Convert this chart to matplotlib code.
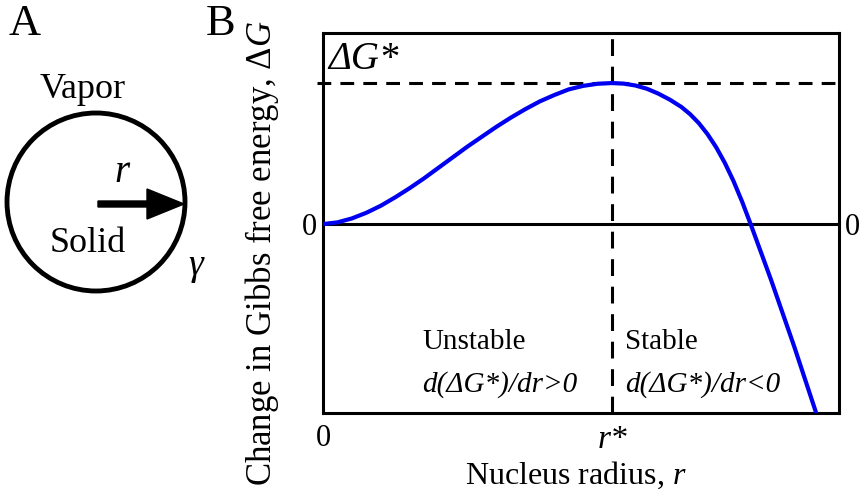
import matplotlib
matplotlib.use('Agg')
import matplotlib.pyplot as plt
from matplotlib.patches import Circle, FancyArrow

plt.rcParams['font.family'] = ['Liberation Serif', 'DejaVu Serif']
plt.rcParams['mathtext.fontset'] = 'custom'
plt.rcParams['mathtext.rm'] = 'Liberation Serif'
plt.rcParams['mathtext.it'] = 'Liberation Serif:italic'

# curve (r in units of r*, dG in units of dG*)
radius = [0.0, 0.05, 0.10, 0.15, 0.20, 0.25, 0.30, 0.35, 0.40, 0.45, 0.50,
          0.55, 0.60, 0.65, 0.70, 0.75, 0.80, 0.85, 0.90, 0.95, 1.0,
          1.04, 1.08, 1.12, 1.16, 1.20, 1.24, 1.27, 1.30, 1.33, 1.36,
          1.39, 1.42, 1.45, 1.48, 1.55, 1.63, 1.713]
gibbs = [0.0, 0.012, 0.04, 0.08, 0.13, 0.19, 0.255, 0.325, 0.40, 0.475, 0.55,
         0.62, 0.69, 0.755, 0.815, 0.87, 0.915, 0.955, 0.98, 0.995, 1.0,
         0.996, 0.983, 0.96, 0.925, 0.882, 0.83, 0.779, 0.716, 0.638, 0.545,
         0.434, 0.305, 0.158, -0.004, -0.396, -0.868, -1.383]
r_star = 1.0
dg_star = 1.0
x_ticks = [0, r_star]
x_labels = ['0', 'r*']

fig = plt.figure(figsize=(8.66, 4.93), dpi=100)
ax = fig.add_axes([323 / 866, 1 - 413 / 493, 516 / 866, 380 / 493])

lw = 2.2
ax.plot(radius, gibbs, color='#0000f0', lw=3.0, solid_capstyle='butt',
        solid_joinstyle='round', zorder=3)
ax.axhline(0, color='black', lw=lw, zorder=2)
ax.plot([-0.02, 1.785], [dg_star, dg_star], color='black', lw=lw,
        dashes=(4.5, 3.0), clip_on=False, zorder=2)
ax.plot([r_star, r_star], [-1.34, 1.375], color='black', lw=lw,
        dashes=(5.5, 3.5), clip_on=False, zorder=2)

ax.set_xlim(0, 1.785)
ax.set_ylim(-1.34, 1.355)
for s in ax.spines.values():
    s.set_linewidth(lw)

ax.set_xticks(x_ticks)
lbls = ax.set_xticklabels(x_labels, fontsize=22)
lbls[1].set_fontstyle('italic')
lbls[1].set_fontsize(24)
ax.set_yticks([0])
ax.set_yticklabels(['0'], fontsize=22)
ax.tick_params(axis='both', length=0)
ax.tick_params(axis='x', pad=8)
ax.tick_params(axis='y', pad=4, labelright=True)

ax.set_xlabel('Nucleus radius, $\\mathit{r}$', fontsize=23)
ax.xaxis.set_label_coords(0.49, -0.122)
ax.set_ylabel('Change in Gibbs free energy, $\\mathit{\\Delta G}$', fontsize=25)
ax.yaxis.set_label_coords(-0.082, 0.42)

ax.text(0.02, 1.17, 'ΔG*', fontsize=28, style='italic', va='center', ha='left')
ax.text(0.343, -0.84, 'Unstable', fontsize=21, ha='left', va='center')
ax.text(0.343, -1.14, 'd(ΔG*)/dr>0', fontsize=21, style='italic', ha='left', va='center')
ax.text(1.045, -0.84, 'Stable', fontsize=21, ha='left', va='center')
ax.text(1.045, -1.14, 'd(ΔG*)/dr<0', fontsize=21, style='italic', ha='left', va='center')

# panel A drawn in pixel space
ov = fig.add_axes([0, 0, 1, 1], zorder=-1)
ov.set_xlim(0, 866)
ov.set_ylim(493, 0)
ov.axis('off')
ov.add_patch(Circle((96, 202), 89, fill=False, lw=3.5, color='black'))
ov.add_patch(FancyArrow(98, 204, 86, 0, width=6, head_width=30, head_length=37,
                        length_includes_head=True, color='black'))
ov.text(122, 172, 'r', fontsize=28, style='italic', ha='center', va='center')
ov.text(83, 90, 'Vapor', fontsize=26, ha='center', va='center')
ov.text(88, 243, 'Solid', fontsize=26, ha='center', va='center')
ov.text(196, 266, 'γ', fontsize=27, style='italic', ha='center', va='center')
ov.text(25, 24, 'A', fontsize=32, ha='center', va='center')
ov.text(221, 24, 'B', fontsize=32, ha='center', va='center')

fig.savefig('out.png', dpi=100)
